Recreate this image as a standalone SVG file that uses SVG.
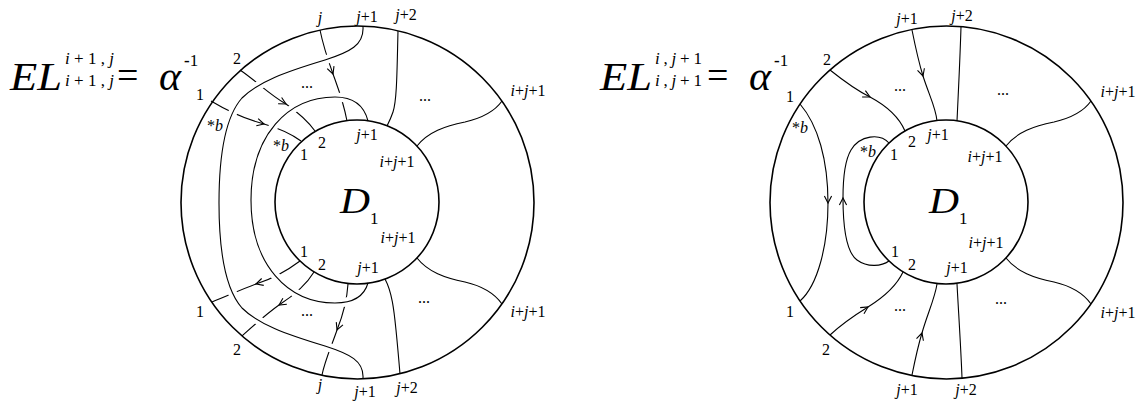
<svg xmlns="http://www.w3.org/2000/svg" width="1146" height="405" viewBox="0 0 1146 405" font-family="'Liberation Serif', serif">
<style>
.c{fill:none;stroke:#000;stroke-width:1.6}
.s{fill:none;stroke:#000;stroke-width:1.1}
.h{fill:none;stroke:#fff;stroke-width:9}
.a{fill:none;stroke:#000;stroke-width:1.1;stroke-linejoin:miter}
text{font-family:'Liberation Serif',serif;fill:#000}
.lb{font-size:16px;text-anchor:middle}
.it{font-style:italic}
.big{font-size:41px;font-style:italic}
.scr{font-size:17px}
</style>
<defs>
<path id="ah" d="M-7,-3.6 L0,0 L-7,3.6"/>
</defs>

<g id="formula-left">
<text class="big" x="10" y="90" textLength="52" lengthAdjust="spacingAndGlyphs">EL</text>
<text class="scr" x="65" y="64" textLength="49" lengthAdjust="spacing"><tspan class="it">i</tspan>+1,<tspan class="it">j</tspan></text>
<text class="scr" x="65" y="86" textLength="49" lengthAdjust="spacing"><tspan class="it">i</tspan>+1,<tspan class="it">j</tspan></text>
<text x="117" y="88" font-size="38">=</text>
<text x="159" y="90" font-size="42" font-style="italic">α</text>
<text x="184" y="66" font-size="17"><tspan font-weight="bold">-</tspan>1</text>
</g>

<g id="formula-right">
<text class="big" x="600" y="90" textLength="52" lengthAdjust="spacingAndGlyphs">EL</text>
<text class="scr" x="655" y="64" textLength="47" lengthAdjust="spacing"><tspan class="it">i</tspan>,<tspan class="it">j</tspan>+1</text>
<text class="scr" x="655" y="86" textLength="47" lengthAdjust="spacing"><tspan class="it">i</tspan>,<tspan class="it">j</tspan>+1</text>
<text x="707" y="88" font-size="38">=</text>
<text x="749" y="90" font-size="42" font-style="italic">α</text>
<text x="774" y="66" font-size="17"><tspan font-weight="bold">-</tspan>1</text>
</g>

<g id="connectors">
<g id="strands-left">
<path class="s" d="M211,101 C226,110 245,119 264,124 C278,128 290,133 301,141"/>
<path class="s" d="M240,70 C255,80 270,95 286,104 C296,111 307,120 315,131"/>
<path class="s" d="M320,30 C323,45 328,60 333,74 C338,88 343,100 347,121"/>
<path class="s" d="M398,31 C397,70 397,100 393,112 C391,118 389,122 387,126"/>
<path class="s" d="M502,101 C495,111 482,118 465,122 C445,126 428,132 417,146"/>
<path class="s" d="M300,261 C288,270 272,279 256,284 C240,290 225,297 212,302"/>
<path class="s" d="M314,272 C308,282 296,294 279,305 C265,315 252,327 242,336"/>
<path class="s" d="M348,284 C347,300 343,315 337,330 C332,345 325,360 322,375"/>
<path class="s" d="M385,279 C392,292 394,310 396,330 C398,350 399,362 400,374"/>
<path class="s" d="M417,258 C428,272 445,278 465,282 C482,286 495,294 502,304"/>
</g>
<g id="curves-left">
<path class="h" d="M363,27 C364,45 350,52 325,60 C285,72 258,82 242,98 C226,116 219,150 219,203 C219,256 226,290 242,308 C258,324 285,334 325,346 C350,354 364,361 363,378"/>
<path class="h" d="M368,121 C364,105 352,97 335,97 C288,97 251,135 251,200 C251,265 288,303 335,303 C352,303 364,297 368,283"/>
<path class="s" d="M363,27 C364,45 350,52 325,60 C285,72 258,82 242,98 C226,116 219,150 219,203 C219,256 226,290 242,308 C258,324 285,334 325,346 C350,354 364,361 363,378"/>
<path class="s" d="M368,121 C364,105 352,97 335,97 C288,97 251,135 251,200 C251,265 288,303 335,303 C352,303 364,297 368,283"/>
</g>
<g id="arrows-left">
<use href="#ah" class="a" transform="translate(264,124) rotate(15)"/>
<use href="#ah" class="a" transform="translate(286,104) rotate(29)"/>
<use href="#ah" class="a" transform="translate(333,74) rotate(70)"/>
<use href="#ah" class="a" transform="translate(256,284) rotate(163)"/>
<use href="#ah" class="a" transform="translate(279,305) rotate(147)"/>
<use href="#ah" class="a" transform="translate(337,330) rotate(112)"/>
</g>
<g id="strands-right">
<path class="s" d="M800,104 C818,125 828,160 828,203 C828,245 818,285 800,301"/>
<path class="s" d="M889,261 C882,266 868,268 857,260 C846,252 843,225 843,198 C843,180 845,160 851,150 C860,135 880,133 889,143"/>
<path class="s" d="M830,70 C845,82 858,91 870,97 C885,105 899,117 905,131"/>
<path class="s" d="M912,30 C916,50 919,63 923,76 C929,95 936,108 937,121"/>
<path class="s" d="M961,27 C960,60 958,100 957,121"/>
<path class="s" d="M1091,101 C1084,111 1071,118 1054,122 C1034,126 1017,132 1006,146"/>
<path class="s" d="M830,335 C843,323 855,315 868,307 C884,297 897,285 903,272"/>
<path class="s" d="M912,375 C915,360 918,346 922,333 C927,315 935,298 937,284"/>
<path class="s" d="M957,284 C959,320 961,350 962,378"/>
<path class="s" d="M1006,258 C1017,272 1034,278 1054,282 C1071,286 1084,294 1091,304"/>
</g>
<g id="arrows-right">
<use href="#ah" class="a" transform="translate(828,203) rotate(90)"/>
<use href="#ah" class="a" transform="translate(843,198) rotate(-90)"/>
<use href="#ah" class="a" transform="translate(870,97) rotate(27)"/>
<use href="#ah" class="a" transform="translate(923,76) rotate(73)"/>
<use href="#ah" class="a" transform="translate(868,307) rotate(-32)"/>
<use href="#ah" class="a" transform="translate(922,333) rotate(-73)"/>
</g>
</g>

<g id="annulus-left">
<circle class="c" cx="357.5" cy="202.5" r="176.5"/>
</g>
<g id="disk-D1-left">
<circle class="c" cx="357" cy="202" r="82"/>
<text x="340" y="213" font-size="36" font-style="italic" textLength="30" lengthAdjust="spacingAndGlyphs">D</text>
<text x="370" y="224" font-size="17">1</text>
</g>
<g id="annulus-right">
<circle class="c" cx="946.5" cy="202.5" r="176.5"/>
</g>
<g id="disk-D1-right">
<circle class="c" cx="946" cy="202" r="82"/>
<text x="929" y="213" font-size="36" font-style="italic" textLength="30" lengthAdjust="spacingAndGlyphs">D</text>
<text x="959" y="224" font-size="17">1</text>
</g>

<g id="labels-left" class="lb">
<text x="320" y="23" class="it">j</text>
<text x="367" y="22"><tspan class="it">j</tspan>+1</text>
<text x="406" y="20"><tspan class="it">j</tspan>+2</text>
<text x="237" y="64">2</text>
<text x="200" y="100">1</text>
<text x="215" y="131">*<tspan class="it">b</tspan></text>
<text x="281" y="151">*<tspan class="it">b</tspan></text>
<text x="304" y="160">1</text>
<text x="322" y="148">2</text>
<text x="367" y="140"><tspan class="it">j</tspan>+1</text>
<text x="397" y="167"><tspan class="it">i</tspan>+<tspan class="it">j</tspan>+1</text>
<text x="528" y="96"><tspan class="it">i</tspan>+<tspan class="it">j</tspan>+1</text>
<text x="307" y="88">...</text>
<text x="425" y="101">...</text>
<text x="398" y="243"><tspan class="it">i</tspan>+<tspan class="it">j</tspan>+1</text>
<text x="304" y="257">1</text>
<text x="322" y="270">2</text>
<text x="368" y="273"><tspan class="it">j</tspan>+1</text>
<text x="200" y="317">1</text>
<text x="237" y="355">2</text>
<text x="307" y="316">...</text>
<text x="424" y="303">...</text>
<text x="320" y="390" class="it">j</text>
<text x="365" y="397"><tspan class="it">j</tspan>+1</text>
<text x="407" y="393"><tspan class="it">j</tspan>+2</text>
<text x="528" y="317"><tspan class="it">i</tspan>+<tspan class="it">j</tspan>+1</text>
</g>

<g id="labels-right" class="lb">
<text x="907" y="24"><tspan class="it">j</tspan>+1</text>
<text x="962" y="21"><tspan class="it">j</tspan>+2</text>
<text x="827" y="65">2</text>
<text x="790" y="102">1</text>
<text x="800" y="133">*<tspan class="it">b</tspan></text>
<text x="868" y="157">*<tspan class="it">b</tspan></text>
<text x="894" y="160">1</text>
<text x="912" y="147">2</text>
<text x="938" y="140"><tspan class="it">j</tspan>+1</text>
<text x="985" y="162"><tspan class="it">i</tspan>+<tspan class="it">j</tspan>+1</text>
<text x="1118" y="97"><tspan class="it">i</tspan>+<tspan class="it">j</tspan>+1</text>
<text x="900" y="91">...</text>
<text x="1003" y="95">...</text>
<text x="986" y="248"><tspan class="it">i</tspan>+<tspan class="it">j</tspan>+1</text>
<text x="895" y="257">1</text>
<text x="912" y="270">2</text>
<text x="957" y="273"><tspan class="it">j</tspan>+1</text>
<text x="790" y="317">1</text>
<text x="826" y="355">2</text>
<text x="900" y="311">...</text>
<text x="1001" y="304">...</text>
<text x="907" y="395"><tspan class="it">j</tspan>+1</text>
<text x="966" y="395"><tspan class="it">j</tspan>+2</text>
<text x="1118" y="318"><tspan class="it">i</tspan>+<tspan class="it">j</tspan>+1</text>
</g>
</svg>
